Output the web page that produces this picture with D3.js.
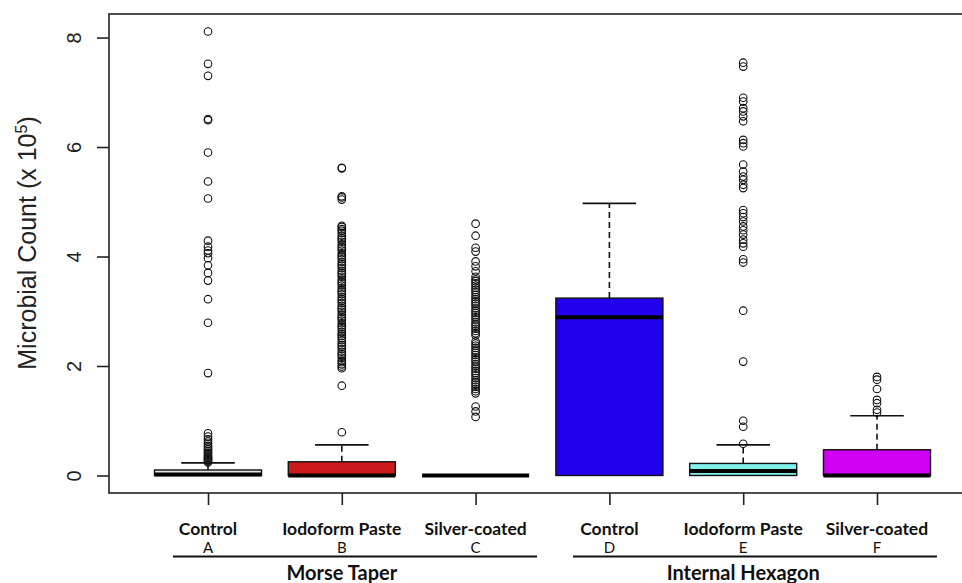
<!DOCTYPE html>
<html>
<head>
<meta charset="utf-8">
<script src="https://cdn.jsdelivr.net/npm/d3@7"></script>
<style>
  body { margin: 0; background: #fff; }
  svg { display: block; }
</style>
</head>
<body>
<div id="chart"></div>
<script>
// groups, left to right
const treatments = ["Control", "Iodoform Paste", "Silver-coated", "Control", "Iodoform Paste", "Silver-coated"];
const letters = ["A", "B", "C", "D", "E", "F"];
const implantTypes = ["Morse Taper", "Internal Hexagon"];
const fills = ["#e2e2e2", "#cc1a1c", "#e2e2e2", "#2200ee", "#80f0ea", "#d000f5"];

// box statistics (x 10^5)
const q1 = [0, 0, 0, 0, 0, 0];
const medians = [0.02, 0, 0, 2.89, 0.08, 0];
const q3 = [0.10, 0.25, 0, 3.24, 0.22, 0.47];
const whiskerLow = [0, 0, 0, 0, 0, 0];
const whiskerHigh = [0.23, 0.56, 0, 4.97, 0.56, 1.09];

const outliersA = [0.24, 0.26, 0.28, 0.30, 0.32, 0.34, 0.36, 0.39, 0.42, 0.45, 0.48, 0.51, 0.54, 0.58, 0.62, 0.66, 0.71, 0.77,
  1.87, 2.79, 3.22, 3.56, 3.70, 3.84, 3.97, 4.06, 4.11, 4.18, 4.29, 5.06, 5.37, 5.90, 6.49, 6.51, 7.30, 7.52, 8.11];
const outliersB = [0.79, 1.64, 1.96, 1.99, 2.03, 2.07, 2.10, 2.15, 2.19, 2.22, 2.26, 2.31, 2.35, 2.38, 2.42, 2.47, 2.51, 2.55,
  2.58, 2.62, 2.67, 2.71, 2.74, 2.78, 2.83, 2.87, 2.90, 2.94, 2.99, 3.03, 3.06, 3.10, 3.15, 3.19, 3.22, 3.26, 3.31, 3.35,
  3.38, 3.42, 3.47, 3.51, 3.54, 3.58, 3.63, 3.67, 3.70, 3.74, 3.79, 3.83, 3.86, 3.90, 3.95, 3.99, 4.02, 4.06, 4.11, 4.15,
  4.18, 4.22, 4.27, 4.31, 4.34, 4.38, 4.43, 4.47, 4.50, 4.54, 4.56, 5.04, 5.08, 5.10, 5.61, 5.62];
const outliersC = [1.07, 1.17, 1.26, 1.50, 1.54, 1.58, 1.62, 1.66, 1.70, 1.74, 1.78, 1.83, 1.87, 1.91, 1.95, 1.99, 2.03,
  2.08, 2.12, 2.16, 2.20, 2.24, 2.28, 2.33, 2.37, 2.41, 2.45, 2.56, 2.60, 2.64, 2.68, 2.72, 2.76, 2.80, 2.85, 2.89, 2.93,
  2.97, 3.01, 3.05, 3.10, 3.14, 3.18, 3.22, 3.26, 3.30, 3.35, 3.39, 3.43, 3.47, 3.51, 3.55, 3.58, 3.63, 3.73, 3.82, 3.91,
  4.09, 4.16, 4.38, 4.60];
const outliersD = [];
const outliersE = [0.58, 0.89, 1.00, 2.08, 3.01, 3.89, 3.95, 4.18, 4.24, 4.31, 4.40, 4.48, 4.55, 4.64, 4.72, 4.79, 4.85,
  5.25, 5.31, 5.40, 5.46, 5.55, 5.68, 6.01, 6.07, 6.13, 6.47, 6.56, 6.65, 6.71, 6.83, 6.90, 7.47, 7.54];
const outliersF = [1.15, 1.20, 1.32, 1.38, 1.58, 1.75, 1.80];
const outliers = [outliersA, outliersB, outliersC, outliersD, outliersE, outliersF];

const yTicks = [0, 2, 4, 6, 8];

const width = 962;
const height = 583;

const svg = d3.select("#chart")
  .append("svg")
  .attr("width", width)
  .attr("height", height);

// R style: positions 1..6, xlim 0.5..6.5 padded by 4%
const x = d3.scaleLinear().domain([0.26, 6.74]).range([109, 976]);
const y = d3.scaleLinear().domain([-0.32, 8.43]).range([493, 14]);
const boxW = x(1.8) - x(1);
const capW = boxW / 2;

const groups = letters.map((l, i) => ({
  i, pos: i + 1, fill: fills[i], q1: q1[i], med: medians[i], q3: q3[i],
  lo: whiskerLow[i], hi: whiskerHigh[i], out: outliers[i]
}));

// frame
svg.append("rect")
  .attr("x", x(0.26))
  .attr("y", y(8.43))
  .attr("width", x(6.74) - x(0.26))
  .attr("height", y(-0.32) - y(8.43))
  .attr("fill", "none")
  .attr("stroke", "#222")
  .attr("stroke-width", 1.6);

// y axis
const yAxis = svg.append("g")
  .attr("transform", `translate(${x(0.26)},0)`)
  .call(d3.axisLeft(y).tickValues(yTicks).tickSize(12).tickPadding(6).tickFormat(d3.format("d")));
yAxis.select(".domain").remove();
yAxis.selectAll(".tick line").attr("stroke", "#222").attr("stroke-width", 1.6);
yAxis.selectAll(".tick text")
  .attr("transform", "rotate(-90)")
  .attr("x", 0)
  .attr("y", -28)
  .attr("dy", 0)
  .attr("text-anchor", "middle")
  .style("font-family", "'Liberation Sans', Arial, sans-serif")
  .style("font-size", "20px")
  .attr("fill", "#222");

// x axis ticks only
const xAxis = svg.append("g")
  .attr("transform", `translate(0,${y(-0.32)})`)
  .call(d3.axisBottom(x).tickValues(groups.map(g => g.pos)).tickSize(12).tickFormat(""));
xAxis.select(".domain").remove();
xAxis.selectAll(".tick line").attr("stroke", "#222").attr("stroke-width", 1.6);

// y label
svg.append("text")
  .attr("transform", `translate(36,243) rotate(-90)`)
  .attr("text-anchor", "middle")
  .style("font-family", "'Liberation Sans', Arial, sans-serif")
  .style("font-size", "25px")
  .attr("fill", "#222")
  .call(t => {
    t.append("tspan").text("Microbial Count (x 10");
    t.append("tspan").attr("dy", -9).style("font-size", "16px").text("5");
    t.append("tspan").attr("dy", 9).text(")");
  });

const box = svg.append("g").selectAll("g.box")
  .data(groups)
  .enter()
  .append("g")
  .attr("class", "box");

// dashed whiskers
box.append("line")
  .attr("x1", d => x(d.pos)).attr("x2", d => x(d.pos))
  .attr("y1", d => y(d.q3)).attr("y2", d => y(d.hi))
  .attr("stroke", "#111").attr("stroke-width", 1.6)
  .attr("stroke-dasharray", "6,4");

box.filter(d => d.hi > d.q3).append("line")
  .attr("x1", d => x(d.pos) - capW / 2).attr("x2", d => x(d.pos) + capW / 2)
  .attr("y1", d => y(d.hi)).attr("y2", d => y(d.hi))
  .attr("stroke", "#111").attr("stroke-width", 1.6);

box.append("rect")
  .attr("x", d => x(d.pos) - boxW / 2)
  .attr("y", d => y(d.q3))
  .attr("width", boxW)
  .attr("height", d => y(d.q1) - y(d.q3))
  .attr("fill", d => d.fill)
  .attr("stroke", "#111")
  .attr("stroke-width", 1.4);

// medians
box.append("line")
  .attr("x1", d => x(d.pos) - boxW / 2).attr("x2", d => x(d.pos) + boxW / 2)
  .attr("y1", d => y(d.med)).attr("y2", d => y(d.med))
  .attr("stroke", "#000").attr("stroke-width", 4);

// outliers
box.selectAll("circle")
  .data(d => d.out.map(v => ({ pos: d.pos, v })))
  .enter()
  .append("circle")
  .attr("cx", d => x(d.pos))
  .attr("cy", d => y(d.v))
  .attr("r", 3.8)
  .attr("fill", "none")
  .attr("stroke", "#111")
  .attr("stroke-width", 1.1);

// category labels
const labelFont = "Lato, 'Open Sans', sans-serif";
svg.append("g").selectAll("text")
  .data(groups)
  .enter()
  .append("text")
  .attr("x", d => x(d.pos))
  .attr("y", 535)
  .attr("text-anchor", "middle")
  .style("font-family", labelFont)
  .style("font-weight", "bold")
  .style("font-size", "17.5px")
  .attr("fill", "#111")
  .text(d => treatments[d.i]);

svg.append("g").selectAll("text")
  .data(groups)
  .enter()
  .append("text")
  .attr("x", d => x(d.pos))
  .attr("y", 553)
  .attr("text-anchor", "middle")
  .style("font-family", labelFont)
  .style("font-size", "15px")
  .attr("fill", "#111")
  .text(d => letters[d.i]);

// implant type brackets
const typeSpan = [[0.738, 3.459], [3.728, 6.448]];
implantTypes.forEach((name, k) => {
  const [a, b] = typeSpan[k];
  svg.append("line")
    .attr("x1", x(a)).attr("x2", x(b))
    .attr("y1", 556.5).attr("y2", 556.5)
    .attr("stroke", "#111").attr("stroke-width", 2);
  svg.append("text")
    .attr("x", x(k * 3 + 2))
    .attr("y", 580)
    .attr("text-anchor", "middle")
    .style("font-family", labelFont)
    .style("font-weight", "bold")
    .style("font-size", "20px")
    .attr("fill", "#111")
    .text(name);
});
</script>
</body>
</html>
